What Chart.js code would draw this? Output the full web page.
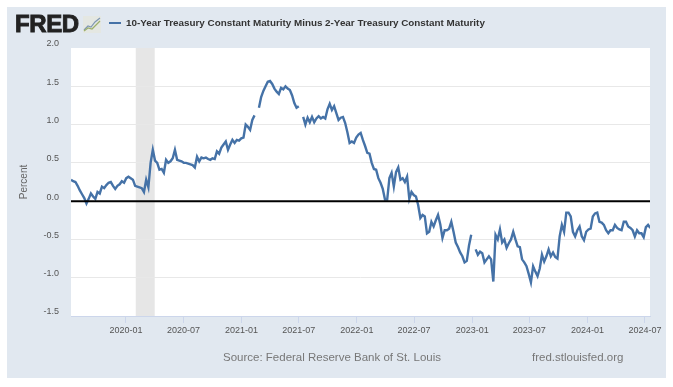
<!DOCTYPE html>
<html lang="en">
<head>
  <meta charset="UTF-8" />
  <title>10-Year Treasury Constant Maturity Minus 2-Year Treasury Constant Maturity</title>
  <script src="https://cdn.jsdelivr.net/npm/chart.js"></script>
  <style>
    html, body { margin: 0; padding: 0; background: #fff; overflow: hidden; }
    body { width: 673px; height: 387px; position: relative; font-family: "Liberation Sans", Arial, sans-serif; }
    #panel { position: absolute; left: 7px; top: 7px; width: 659px; height: 371px; background: #e1e8f0; }
    canvas { position: absolute; left: 0; top: 0; }
    .txt { position: absolute; white-space: nowrap; }
    #logo { left: 15px; top: 10px; font-size: 24px; font-weight: bold; color: #222; letter-spacing: -0.4px; -webkit-text-stroke: 0.9px #222; }
    #icon { position: absolute; left: 83px; top: 16px; }
    #legend-line { position: absolute; left: 109px; top: 22px; width: 12px; height: 2px; background: #4572a7; }
    #legend { left: 126px; top: 17px; font-size: 9.86px; font-weight: bold; color: #333; }
    #source { left: 223px; top: 351px; font-size: 11.5px; color: #777; }
    #site { left: 532px; top: 351px; font-size: 11.5px; color: #777; }
  </style>
</head>
<body>
  <div id="panel"></div>
  <canvas id="chart" width="673" height="387"></canvas>
  <div class="txt" id="logo">FRED</div>
  <svg id="icon" width="18" height="17" viewBox="0 0 18 17">
    <rect width="18" height="17" fill="#e4e7e2" />
    <polyline points="1,14 5,10 8,11 12,6 17,2" fill="none" stroke="#7f97b2" stroke-width="1.2" />
    <polyline points="1,15 5,12 9,13 13,9 17,5" fill="none" stroke="#9db06c" stroke-width="1.2" />
  </svg>
  <div id="legend-line"></div>
  <div class="txt" id="legend">10-Year Treasury Constant Maturity Minus 2-Year Treasury Constant Maturity</div>
  <div class="txt" id="source">Source: Federal Reserve Bank of St. Louis</div>
  <div class="txt" id="site">fred.stlouisfed.org</div>

  <script>
  const startDate = '2019-07-11';
  const endDate = '2024-07-17';
  const stepDays = 7;

  // weekly readings, null = gap in the line
  const spread = [
    0.28, 0.26, 0.25, 0.20, 0.14, 0.09, 0.04, -0.03, 0.03, 0.10,
    0.06, 0.03, 0.12, 0.10, 0.19, 0.17, 0.21, 0.24, 0.25, 0.20,
    0.16, 0.20, 0.22, 0.26, 0.24, 0.30, 0.32, 0.30, 0.28, 0.20,
    0.19, 0.18, 0.17, 0.12, 0.28, 0.18, 0.50, 0.67, 0.53, 0.50,
    0.41, 0.42, 0.37, 0.54, 0.50, 0.52, 0.56, 0.67, 0.54, 0.53,
    0.52, 0.50, 0.50, 0.49, 0.48, 0.47, 0.44, 0.58, 0.52, 0.57,
    0.56, 0.57, 0.55, 0.54, 0.56, 0.55, 0.65, 0.62, 0.70, 0.74,
    0.78, 0.67, 0.74, 0.80, 0.76, 0.80, 0.79, 0.82, 0.83, 1.00,
    0.97, 0.93, 1.06, 1.12, null, 1.22, 1.36, 1.44, 1.50, 1.56,
    1.57, 1.53, 1.47, 1.43, 1.40, 1.48, 1.46, 1.50, 1.47, 1.45,
    1.38, 1.28, 1.22, 1.24, null, 1.10, 1.00, 1.09, 1.03, 1.10,
    1.03, 1.08, 1.11, 1.08, 1.10, 1.08, 1.20, 1.27, 1.19, 1.24,
    1.15, 1.06, 1.09, 1.10, 1.02, 0.90, 0.76, 0.78, 0.76, 0.83,
    0.87, 0.89, 0.80, 0.72, 0.63, 0.62, 0.50, 0.42, 0.41, 0.30,
    0.24, 0.16, 0.02, 0.02, 0.30, 0.37, 0.19, 0.38, 0.44, 0.28,
    0.30, 0.25, 0.32, 0.03, 0.12, 0.08, 0.06, -0.05, -0.22, -0.18,
    -0.20, -0.42, -0.40, -0.27, -0.33, -0.25, -0.18, -0.30, -0.48, -0.38,
    -0.38, -0.36, -0.27, -0.40, -0.54, -0.60, -0.67, -0.72, -0.80, -0.78,
    -0.58, -0.44, null, -0.63, -0.70, -0.66, -0.68, -0.80, -0.76, -0.72,
    -0.76, -1.05, -0.44, -0.50, -0.37, -0.54, -0.50, -0.61, -0.55, -0.50,
    -0.40, -0.50, -0.59, -0.60, -0.76, -0.80, -0.85, -0.95, -1.06, -0.85,
    -0.92, -0.98, -0.88, -0.70, -0.79, -0.72, -0.63, -0.72, -0.67, -0.73,
    -0.75, -0.46, -0.31, -0.40, -0.15, -0.15, -0.20, -0.40, -0.46, -0.38,
    -0.33, -0.46, -0.51, -0.40, -0.37, -0.36, -0.20, -0.16, -0.15, -0.27,
    -0.28, -0.31, -0.38, -0.42, -0.38, -0.38, -0.31, -0.35, -0.37, -0.38,
    -0.27, -0.27, -0.33, -0.35, -0.38, -0.46, -0.38, -0.42, -0.42, -0.47,
    -0.34, -0.31, -0.35
  ];

  const tickDates = ['2020-01-01', '2020-07-01', '2021-01-01', '2021-07-01', '2022-01-01',
    '2022-07-01', '2023-01-01', '2023-07-01', '2024-01-01', '2024-07-01'];
  const tickLabels = ['2020-01', '2020-07', '2021-01', '2021-07', '2022-01',
    '2022-07', '2023-01', '2023-07', '2024-01', '2024-07'];
  const recession = ['2020-02-01', '2020-04-01'];

  const DAY = 86400000;
  const toMs = s => Date.parse(s + 'T00:00:00Z');
  const points = spread.map((v, i) => ({ x: toMs(startDate) + i * stepDays * DAY, y: v }));
  const tickValues = tickDates.map(toMs);

  // plot background and recession band go under the datasets
  const backdrop = {
    id: 'backdrop',
    beforeDraw(chart) {
      const { ctx, chartArea: a, scales } = chart;
      ctx.save();
      ctx.fillStyle = '#ffffff';
      ctx.fillRect(a.left, a.top, a.width, a.height);
      const x0 = scales.x.getPixelForValue(toMs(recession[0]));
      const x1 = scales.x.getPixelForValue(toMs(recession[1]));
      ctx.fillStyle = '#e6e6e6';
      ctx.fillRect(x0, a.top, x1 - x0, a.height);
      ctx.restore();
    }
  };

  new Chart(document.getElementById('chart'), {
    type: 'line',
    plugins: [backdrop],
    data: {
      datasets: [
        {
          label: 'Zero',
          data: [{ x: toMs(startDate), y: 0 }, { x: toMs(endDate), y: 0 }],
          borderColor: '#000000',
          borderWidth: 2,
          pointRadius: 0
        },
        {
          label: '10-Year Treasury Constant Maturity Minus 2-Year Treasury Constant Maturity',
          data: points,
          borderColor: '#4572a7',
          borderWidth: 2.4,
          pointRadius: 0,
          tension: 0,
          spanGaps: false
        }
      ]
    },
    options: {
      responsive: false,
      animation: false,
      layout: { padding: { top: 48, right: 23, left: 0, bottom: 0 } },
      plugins: { legend: { display: false }, tooltip: { enabled: false } },
      scales: {
        x: {
          type: 'linear',
          min: toMs(startDate),
          max: toMs(endDate),
          afterBuildTicks: s => { s.ticks = tickValues.map(value => ({ value })); },
          afterFit: s => { s.height = 71; },
          border: { color: '#ccd6eb', width: 1 },
          grid: { drawOnChartArea: false, tickColor: '#ccd6eb', tickLength: 7 },
          ticks: {
            autoSkip: false,
            maxRotation: 0,
            padding: 2,
            color: '#555',
            font: { family: '"Liberation Sans", Arial, sans-serif', size: 9 },
            callback: v => tickLabels[tickValues.indexOf(v)]
          }
        },
        y: {
          min: -1.5,
          max: 2,
          afterFit: s => { s.width = 71; },
          border: { display: false },
          grid: {
            drawTicks: false,
            color: c => (c.tick.value === 2 ? 'rgba(0,0,0,0)' : '#e8e8e8')
          },
          title: {
            display: true,
            text: 'Percent',
            color: '#666',
            font: { family: '"Liberation Sans", Arial, sans-serif', size: 10 },
            padding: { top: 18, bottom: 0 }
          },
          ticks: {
            stepSize: 0.5,
            padding: 12,
            color: '#555',
            font: { family: '"Liberation Sans", Arial, sans-serif', size: 9, lineHeight: 0.9 },
            // empty second line lifts the label above its grid line, as in the original
            callback: v => [v.toFixed(1), '']
          }
        }
      }
    }
  });
  </script>
</body>
</html>
